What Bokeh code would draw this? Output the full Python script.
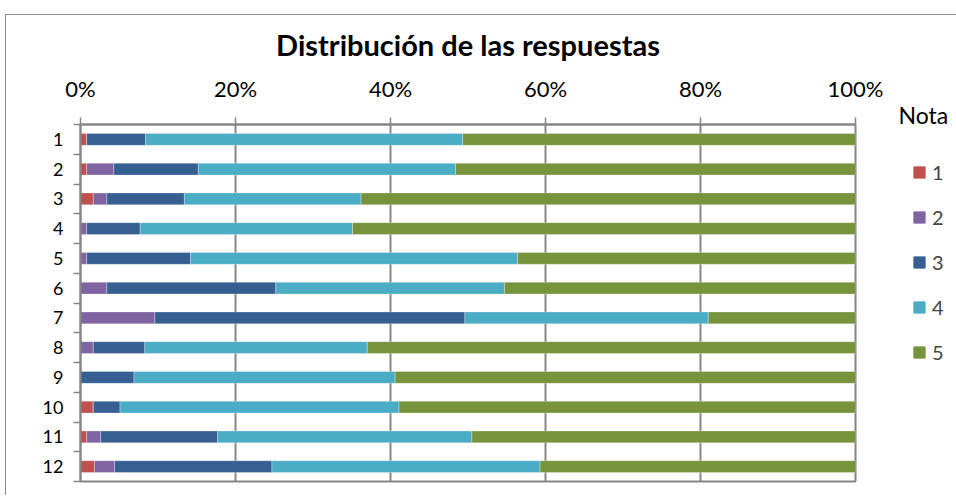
from bokeh.plotting import figure
from bokeh.layouts import row
from bokeh.models import (Range1d, FixedTicker, Legend, LegendItem,
                          ColumnDataSource)
from bokeh.embed import file_html
from bokeh.resources import INLINE

# ---- data (percent of answers per question, by grade "Nota") ----
categories = ["1", "2", "3", "4", "5", "6", "7", "8", "9", "10", "11", "12"]
nota_names = ["1", "2", "3", "4", "5"]
nota1 = [0.8, 0.8, 1.65, 0.0, 0.0, 0.0, 0.0, 0.0, 0.0, 1.65, 0.8, 1.8]
nota2 = [0.0, 3.5, 1.75, 0.8, 0.8, 3.4, 9.6, 1.65, 0.0, 0.0, 1.8, 2.6]
nota3 = [7.6, 10.9, 10.0, 6.9, 13.4, 21.8, 40.0, 6.65, 6.9, 3.45, 15.1, 20.3]
nota4 = [40.9, 33.2, 22.8, 27.4, 42.2, 29.5, 31.4, 28.7, 33.7, 36.0, 32.8, 34.6]
nota5 = [50.7, 51.6, 63.8, 64.9, 43.6, 45.3, 19.0, 63.0, 59.4, 58.9, 49.5, 40.7]
x_ticks = [0, 20, 40, 60, 80, 100]
x_tick_labels = ["0%", "20%", "40%", "60%", "80%", "100%"]

colors = ["#C0504D", "#8064A2", "#376092", "#4BACC6", "#77933C"]
FONT = "Lato"
GRAY = "#868686"
H = 495

n = len(categories)
centers = [i + 0.5 for i in range(n)]
source = ColumnDataSource(dict(y=centers, n1=nota1, n2=nota2, n3=nota3,
                               n4=nota4, n5=nota5))
stackers = ["n1", "n2", "n3", "n4", "n5"]

p = figure(frame_width=775, frame_height=357, x_range=Range1d(0, 100),
           y_range=Range1d(n, 0), x_axis_location="above",
           output_backend="svg", toolbar_location=None,
           min_border_left=80, min_border_right=40, min_border_top=124,
           min_border_bottom=14, title="Distribución de las respuestas")

p.title.align = "center"
p.title.text_font = FONT
p.title.text_font_size = "29px"
p.title.text_font_style = "bold"
p.title.text_color = "black"
p.title.standoff = 19

renderers = p.hbar_stack(stackers, y="y", height=0.4, color=colors,
                         source=source, line_color="white",
                         line_width=0.6, line_alpha=0.5)

# x axis (top)
xa = p.xaxis[0]
xa.ticker = FixedTicker(ticks=x_ticks, minor_ticks=[])
xa.major_label_overrides = {t: l for t, l in zip(x_ticks, x_tick_labels)}
xa.major_label_text_font = FONT
xa.major_label_text_font_size = "22px"
xa.major_label_text_color = "black"
xa.major_tick_out = 7
xa.major_tick_in = 0
xa.major_tick_line_color = GRAY
xa.major_tick_line_width = 1.5
xa.minor_tick_line_color = None
xa.axis_line_color = GRAY
xa.axis_line_width = 2
xa.major_label_standoff = 16

# y axis (left) with ticks between categories
ya = p.yaxis[0]
ya.ticker = FixedTicker(ticks=centers, minor_ticks=list(range(n + 1)))
ya.major_label_overrides = {c: l for c, l in zip(centers, categories)}
ya.major_label_text_font = FONT
ya.major_label_text_font_size = "18px"
ya.major_label_text_color = "black"
ya.major_tick_line_color = None
ya.major_tick_out = 0
ya.major_tick_in = 0
ya.minor_tick_out = 7
ya.minor_tick_in = 0
ya.minor_tick_line_color = GRAY
ya.minor_tick_line_width = 1.5
ya.axis_line_color = GRAY
ya.axis_line_width = 2
ya.major_label_standoff = 10

p.ygrid.visible = False
p.xgrid.grid_line_color = GRAY
p.xgrid.grid_line_width = 2
p.outline_line_color = GRAY
p.outline_line_width = 2
p.border_fill_color = None

# ---- legend panel (separate figure to the right) ----
LW = 956 - 895
q = figure(width=LW, height=H, x_range=Range1d(0, 1), y_range=Range1d(0, 1),
           x_axis_location=None, y_axis_location=None,
           output_backend="svg", toolbar_location=None,
           min_border_left=0, min_border_right=0, min_border_top=124,
           min_border_bottom=14, title="Nota")
q.title.align = "left"
q.title.offset = 3
q.title.text_font = FONT
q.title.text_font_size = "23px"
q.title.text_font_style = "normal"
q.title.text_color = "black"
q.title.standoff = -8
q.grid.visible = False
q.outline_line_color = None
q.border_fill_color = None
q.background_fill_color = None
q_renderers = q.hbar_stack(stackers, y="y", height=0.4, color=colors,
                           source=source, visible=False)

legend = Legend(items=[LegendItem(label=nm, renderers=[r])
                       for nm, r in zip(nota_names, q_renderers)],
                location=(17, 117), padding=0, margin=0,
                border_line_color=None, background_fill_alpha=0,
                label_text_font=FONT, label_text_font_size="20px",
                label_height=24, glyph_height=14, glyph_width=14,
                spacing=21, label_standoff=6)
q.add_layout(legend, "center")

layout = row(p, q, spacing=0)
layout.styles = {"background": "linear-gradient(#8c8c8c,#8c8c8c) 5px 14px / 100% 1px no-repeat, "
                               "linear-gradient(#8c8c8c,#8c8c8c) 5px 14px / 1px 100% no-repeat"}

open("out.html", "w").write(file_html(layout, INLINE))
